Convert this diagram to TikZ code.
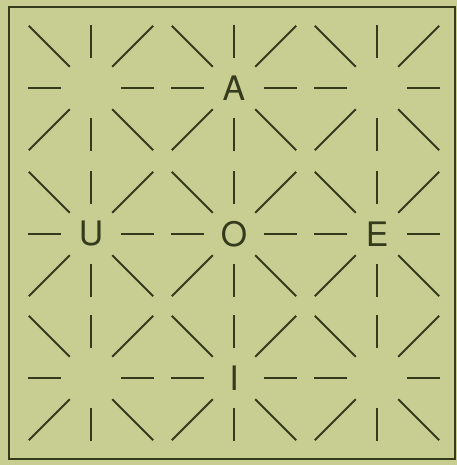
\documentclass[tikz,border=0pt]{standalone}
\usepackage{fontspec}
\setmainfont{TeX Gyre Heros}
\definecolor{paper}{RGB}{200,206,146}
\definecolor{ink}{RGB}{52,58,28}

\tikzset{
  ray/.style={ink, line width=1.3pt},
  vowel/.style={text=ink, inner sep=0pt, font=\fontsize{24}{28}\selectfont}
}

\begin{document}
\begin{tikzpicture}[x=0.025cm, y=-0.025cm]
\fill[paper] (0,0) rectangle (457,465);
\draw[ink, line width=1.2pt] (9,7) rectangle (455,459);
% lattice points
\foreach \c/\x in {1/91,2/234,3/377}
  \foreach \r/\y in {1/88,2/234,3/378}
    \coordinate (p\c\r) at (\x,\y);
\node[vowel] (A) at (p21) {A};
\node[vowel] (U) at (p12) {U};
\node[vowel] (O) at (p22) {O};
\node[vowel] (E) at (p32) {E};
\node[vowel] (I) at (p23) {I};
% rays round every point
\foreach \p in {p11,p21,p31,p12,p22,p32,p13,p23,p33} {
  \foreach \a in {0,90,180,270}
    \draw[ray] (\p) ++(\a:30) -- ++(\a:33);
  \foreach \a in {45,135,225,315}
    \draw[ray] (\p) ++(\a:30) -- ++(\a:58);
}
\end{tikzpicture}
\end{document}
